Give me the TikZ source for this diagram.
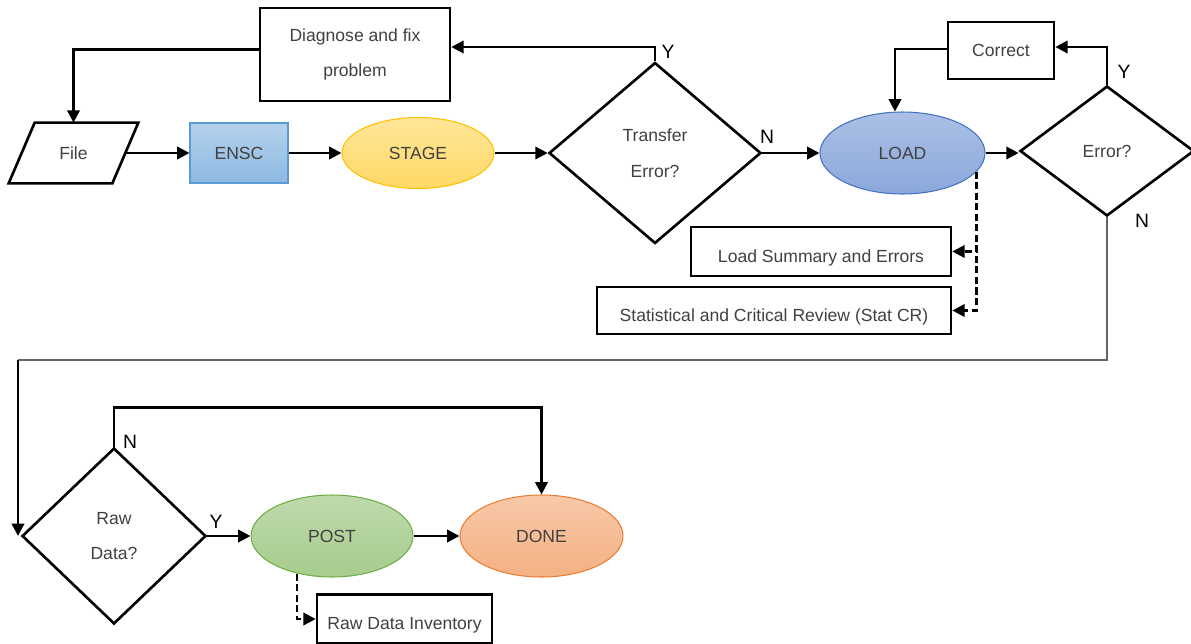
\documentclass[tikz,border=0pt]{standalone}
\usepackage{fontspec}
\setmainfont{Liberation Sans}
\usepackage{tikz}
\usetikzlibrary{shapes.geometric,arrows.meta}
\definecolor{txt}{RGB}{64,64,64}
\definecolor{enscline}{RGB}{91,155,213}
\definecolor{stageline}{RGB}{255,192,0}
\definecolor{loadline}{RGB}{68,114,196}
\definecolor{postline}{RGB}{112,173,71}
\definecolor{doneline}{RGB}{237,125,49}
\tikzstyle{every node}=[font=\fontsize{10}{20.4}\selectfont, text=txt]
\tikzstyle{box}=[draw, rectangle, line width=1.5pt, align=center, inner sep=0pt]
\tikzstyle{lowtext}=[text height=14pt, text depth=2pt]
\tikzstyle{decision}=[draw, diamond, line width=1.5pt, align=center, inner sep=0pt]
\tikzstyle{term}=[draw, ellipse, line width=0.6pt, inner sep=0pt, minimum width=3.26cm, minimum height=1.64cm]
\tikzstyle{datain}=[rectangle, inner sep=0pt, minimum width=2.06cm, minimum height=1.2cm]
\tikzstyle{arr}=[line width=1.5pt, -{Triangle[length=7pt,width=7pt]}]
\tikzstyle{dasharr}=[arr, dash pattern=on 4pt off 2pt]
\tikzstyle{yn}=[text=black, font=\fontsize{11}{13}\selectfont]

\begin{document}
\begin{tikzpicture}[x=0.02cm,y=-0.02cm]
\useasboundingbox (0,0) rectangle (1191,643);
% upper row
\node[box, minimum width=3.8cm, minimum height=1.86cm] (diag) at (355,54.5) {Diagnose and fix\\problem};
\node[datain] (file) at (73.5,153) {File};
\draw[line width=1.5pt] ([xshift=0.26cm]file.north west) -- ([xshift=0.26cm]file.north east)
  -- ([xshift=-0.26cm]file.south east) -- ([xshift=-0.26cm]file.south west) -- cycle;
\node[box, line width=0.6pt, draw=enscline, top color=enscline!45!white, bottom color=enscline!70!white, minimum width=1.96cm, minimum height=1.2cm] (ensc) at (239,153) {ENSC};
\node[term, draw=stageline, top color=stageline!40!white, bottom color=stageline!60!white, minimum width=3.04cm, minimum height=1.42cm] (stage) at (418,153) {STAGE};
\node[decision, minimum width=4.24cm, minimum height=3.62cm] (transfer) at (655,153) {Transfer\\Error?};
\node[term, draw=loadline, top color=loadline!45!white, bottom color=loadline!62!white, minimum width=3.3cm] (load) at (902.5,153) {LOAD};
\node[decision, minimum width=3.48cm, minimum height=2.6cm] (error) at (1107,151) {Error?};
\node[box, minimum width=2.12cm, minimum height=1.14cm] (correct) at (1001,50.5) {Correct};
\node[box, lowtext, minimum width=5.2cm, minimum height=0.98cm] (loadsum) at (821,251.5) {Load Summary and Errors};
\node[box, lowtext, minimum width=7.08cm, minimum height=0.94cm] (statcr) at (774,310.5) {Statistical and Critical Review (Stat CR)};
% lower row
\node[decision, minimum width=3.68cm, minimum height=3.52cm] (raw) at (114,536) {Raw\\Data?};
\node[term, draw=postline, top color=postline!45!white, bottom color=postline!62!white, minimum width=3.24cm] (post) at (332,536) {POST};
\node[term, draw=doneline, top color=doneline!42!white, bottom color=doneline!60!white] (done) at (541.5,536) {DONE};
\node[box, lowtext, minimum width=3.5cm, minimum height=0.98cm] (rdi) at (404.5,619) {Raw Data Inventory};
% Y/N
\node[yn] (ytr) at (668,52) {Y};
\node[yn] (ntr) at (767,137) {N};
\node[yn] (yer) at (1124,72) {Y};
\node[yn] (ner) at (1142,221) {N};
\node[yn] (nraw) at (130,442) {N};
\node[yn] (yraw) at (216,522) {Y};
% connectors
\draw[arr] (file) -- (ensc);
\draw[arr] (ensc) -- (stage);
\draw[arr] (stage) -- (transfer);
\draw[arr] (transfer) -- (load);
\draw[arr] (load.east) -- (load.east -| error.west);
\draw[arr] (transfer.north) |- ([yshift=0.15cm]diag.east);
\draw[arr] ([yshift=0.1cm]diag.west) -| (file.north);
\draw[arr] (error.north) |- ([yshift=0.07cm]correct.east);
\draw[arr] ([yshift=0.03cm]correct.west) -| ([xshift=-0.15cm]load.north);
\draw[dasharr] (load.-14) |- (loadsum.east);
\draw[dasharr] (load.-14) |- (statcr.east);
\coordinate (errdown) at (1107,360);
\coordinate (leftdown) at (18,360);
\draw[line width=0.7pt, black!60] (error.south) -- (errdown) -- (leftdown);
\draw[arr] (leftdown) -- (leftdown |- raw.west);
\draw[arr] (raw.north) -- ++(0,-39) -| (done.north);
\draw[arr] (raw) -- (post);
\draw[arr] (post) -- (done);
\draw[dasharr] (post.-133) |- (rdi.west);
\end{tikzpicture}
\end{document}
